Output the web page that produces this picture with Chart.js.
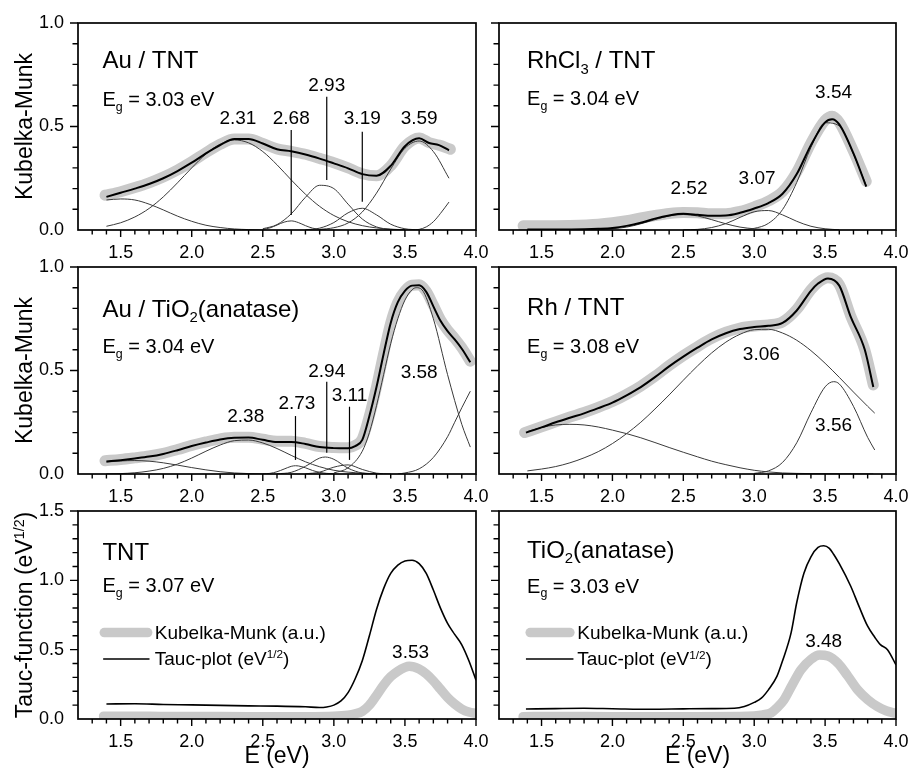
<!DOCTYPE html>
<html>
<head>
<meta charset="utf-8">
<script src="https://cdn.jsdelivr.net/npm/chart.js@4.4.1/dist/chart.umd.min.js"></script>
<style>
  html, body { margin: 0; padding: 0; background: #fff; }
  #wrap { position: relative; width: 909px; height: 776px; }
  #wrap canvas { position: absolute; left: 0; top: 0; }
</style>
</head>
<body>
<div id="wrap">
  <canvas id="p1" width="909" height="776"></canvas>
  <canvas id="p2" width="909" height="776"></canvas>
  <canvas id="p3" width="909" height="776"></canvas>
  <canvas id="p4" width="909" height="776"></canvas>
  <canvas id="p5" width="909" height="776"></canvas>
  <canvas id="p6" width="909" height="776"></canvas>
</div>
<script>
// tick labels
const xTickVals = [1.5, 2.0, 2.5, 3.0, 3.5, 4.0];
const kmTickVals = [0.0, 0.5, 1.0];
const taucTickVals = [0.0, 0.5, 1.0, 1.5];

// ---- Au / TNT  [E (eV), value]
const auTntData = [[1.39,.168],[1.5,.185],[1.6,.205],[1.7,.228],[1.8,.256],[1.9,.29],[2.0,.33],[2.1,.374],[2.2,.414],[2.3,.44],[2.4,.44],[2.5,.418],[2.6,.392],[2.7,.38],[2.8,.366],[2.9,.346],[3.0,.325],[3.1,.3],[3.2,.272],[3.3,.262],[3.4,.31],[3.5,.405],[3.6,.445],[3.67,.422],[3.74,.41],[3.82,.39]];
const auTntFit = [[1.4,.16],[1.5,.18],[1.6,.2],[1.7,.222],[1.8,.25],[1.9,.285],[2.0,.325],[2.1,.37],[2.2,.41],[2.3,.44],[2.4,.44],[2.5,.418],[2.6,.39],[2.7,.38],[2.8,.365],[2.9,.345],[3.0,.322],[3.1,.298],[3.2,.27],[3.3,.262],[3.4,.31],[3.5,.405],[3.6,.443],[3.67,.42],[3.74,.41],[3.81,.385]];
const auTntC1 = [[1.4,.145],[1.5,.15],[1.6,.145],[1.7,.125],[1.8,.097],[1.9,.067],[2.0,.042],[2.1,.023],[2.2,.012],[2.3,.005],[2.4,.002],[2.5,0]];
const auTntC2 = [[1.4,.018],[1.5,.035],[1.6,.063],[1.7,.104],[1.8,.16],[1.9,.228],[2.0,.3],[2.1,.367],[2.2,.415],[2.3,.435],[2.4,.421],[2.5,.379],[2.6,.315],[2.7,.242],[2.8,.173],[2.9,.114],[3.0,.07],[3.1,.04],[3.2,.021],[3.3,.01],[3.4,.004],[3.5,.001]];
const auTntC3 = [[2.5,.003],[2.55,.01],[2.6,.024],[2.65,.038],[2.7,.044],[2.75,.036],[2.8,.021],[2.85,.009],[2.9,.003],[2.95,0]];
const auTntC4 = [[2.5,.006],[2.6,.026],[2.7,.078],[2.8,.158],[2.9,.216],[3.0,.2],[3.1,.125],[3.2,.053],[3.3,.015],[3.4,.003],[3.5,0]];
const auTntC5 = [[2.8,.001],[2.9,.009],[3.0,.036],[3.1,.083],[3.2,.105],[3.3,.073],[3.4,.028],[3.5,.006],[3.6,.001]];
const auTntC6 = [[2.9,.003],[3.0,.011],[3.1,.034],[3.2,.087],[3.3,.178],[3.4,.294],[3.5,.395],[3.6,.43],[3.7,.379],[3.81,.25]];
const auTntC7 = [[3.55,0],[3.6,.003],[3.65,.015],[3.7,.04],[3.75,.08],[3.81,.135]];
const auTntPeaks = [['2.31',2.325,.51],['2.68',2.70,.51],['2.93',2.95,.673],['3.19',3.20,.51],['3.59',3.60,.51]];
const auTntMarks = [[2.70,.483,.072],[2.95,.644,.242],[3.20,.475,.137]];

// ---- RhCl3 / TNT
const rhclData = [[1.37,.02],[1.5,.02],[1.7,.022],[1.9,.028],[2.0,.035],[2.1,.045],[2.2,.058],[2.3,.07],[2.4,.08],[2.5,.085],[2.6,.083],[2.7,.078],[2.8,.078],[2.9,.09],[3.0,.112],[3.1,.14],[3.2,.185],[3.3,.28],[3.4,.42],[3.5,.53],[3.55,.55],[3.6,.52],[3.7,.38],[3.79,.235]];
const rhclFit = [[1.4,.003],[1.6,.003],[1.8,.004],[1.9,.006],[2.0,.01],[2.1,.02],[2.2,.035],[2.3,.055],[2.4,.07],[2.5,.078],[2.6,.074],[2.7,.069],[2.8,.07],[2.9,.083],[3.0,.104],[3.1,.13],[3.2,.175],[3.3,.27],[3.4,.41],[3.5,.52],[3.55,.535],[3.6,.51],[3.7,.37],[3.79,.21]];
const rhclC1 = [[1.9,.002],[2.0,.006],[2.1,.014],[2.2,.03],[2.3,.05],[2.4,.068],[2.5,.075],[2.6,.068],[2.7,.05],[2.8,.03],[2.9,.014],[3.0,.006],[3.1,.002],[3.2,0]];
const rhclC2 = [[2.5,.001],[2.6,.003],[2.7,.012],[2.8,.031],[2.9,.061],[3.0,.088],[3.1,.094],[3.2,.073],[3.3,.042],[3.4,.018],[3.5,.006],[3.6,.001]];
const rhclC3 = [[2.9,.001],[3.0,.008],[3.1,.032],[3.2,.099],[3.3,.23],[3.4,.399],[3.5,.518],[3.6,.503],[3.7,.366],[3.79,.215]];
const rhclPeaks = [['2.52',2.54,.174],['3.07',3.02,.221],['3.54',3.56,.636]];

// ---- Au / TiO2(anatase)
const auTioData = [[1.39,.064],[1.5,.07],[1.6,.078],[1.7,.087],[1.8,.1],[1.9,.118],[2.0,.138],[2.1,.155],[2.2,.17],[2.3,.178],[2.4,.178],[2.5,.168],[2.6,.158],[2.7,.158],[2.8,.148],[2.9,.133],[3.0,.128],[3.1,.127],[3.15,.138],[3.2,.17],[3.25,.28],[3.3,.42],[3.35,.58],[3.4,.73],[3.45,.83],[3.5,.885],[3.55,.912],[3.6,.914],[3.65,.882],[3.7,.815],[3.75,.745],[3.8,.695],[3.85,.655],[3.9,.61],[3.96,.545]];
const auTioFit = [[1.4,.06],[1.5,.067],[1.6,.075],[1.7,.084],[1.8,.097],[1.9,.115],[2.0,.135],[2.1,.152],[2.2,.167],[2.3,.175],[2.4,.176],[2.5,.165],[2.6,.155],[2.7,.155],[2.8,.145],[2.9,.13],[3.0,.125],[3.1,.124],[3.15,.135],[3.2,.165],[3.25,.28],[3.3,.42],[3.35,.58],[3.4,.73],[3.45,.83],[3.5,.885],[3.55,.91],[3.6,.912],[3.65,.88],[3.7,.81],[3.75,.74],[3.8,.69],[3.85,.65],[3.9,.605],[3.96,.54]];
const auTioC1 = [[1.4,.058],[1.5,.063],[1.6,.065],[1.7,.062],[1.8,.054],[1.9,.043],[2.0,.031],[2.1,.02],[2.2,.011],[2.3,.005],[2.4,.002],[2.5,0]];
const auTioC2 = [[1.4,.001],[1.5,.002],[1.6,.006],[1.7,.014],[1.8,.027],[1.9,.048],[2.0,.077],[2.1,.11],[2.2,.14],[2.3,.161],[2.4,.164],[2.5,.15],[2.6,.123],[2.7,.09],[2.8,.059],[2.9,.035],[3.0,.018],[3.1,.009],[3.2,.004],[3.3,.001]];
const auTioC3 = [[2.5,.001],[2.55,.003],[2.6,.011],[2.65,.024],[2.7,.037],[2.73,.04],[2.75,.039],[2.8,.03],[2.85,.017],[2.9,.008],[2.95,.003],[3.0,.001]];
const auTioC4 = [[2.6,.001],[2.7,.008],[2.8,.037],[2.9,.077],[2.94,.082],[3.0,.071],[3.1,.028],[3.2,.005],[3.3,.001]];
const auTioC5 = [[2.8,.001],[2.9,.009],[3.0,.033],[3.1,.044],[3.2,.022],[3.3,.004],[3.4,0]];
const auTioC6 = [[3.0,.005],[3.1,.03],[3.2,.11],[3.25,.2],[3.3,.33],[3.35,.48],[3.4,.63],[3.45,.75],[3.5,.84],[3.55,.89],[3.58,.9],[3.62,.89],[3.7,.75],[3.8,.48],[3.9,.24],[3.96,.13]];
const auTioC7 = [[3.45,0],[3.5,.005],[3.6,.025],[3.7,.08],[3.8,.18],[3.85,.25],[3.9,.32],[3.96,.40]];
const auTioPeaks = [['2.38',2.38,.253],['2.73',2.74,.313],['2.94',2.95,.47],['3.11',3.11,.354],['3.58',3.60,.462]];
const auTioMarks = [[2.73,.28,.068],[2.95,.446,.103],[3.11,.325,.068]];

// ---- Rh / TNT
const rhData = [[1.38,.2],[1.5,.228],[1.6,.252],[1.7,.275],[1.8,.297],[1.9,.322],[2.0,.35],[2.1,.385],[2.2,.425],[2.3,.472],[2.4,.524],[2.5,.572],[2.6,.615],[2.7,.655],[2.8,.685],[2.9,.705],[3.0,.715],[3.1,.72],[3.2,.735],[3.3,.795],[3.4,.89],[3.45,.925],[3.52,.948],[3.6,.915],[3.68,.765],[3.78,.6],[3.84,.43]];
const rhFit = [[1.39,.2],[1.5,.225],[1.6,.25],[1.7,.272],[1.8,.293],[1.9,.318],[2.0,.345],[2.1,.38],[2.2,.42],[2.3,.468],[2.4,.52],[2.5,.567],[2.6,.61],[2.7,.65],[2.8,.68],[2.9,.7],[3.0,.71],[3.1,.716],[3.2,.73],[3.3,.79],[3.4,.885],[3.45,.92],[3.52,.945],[3.6,.91],[3.68,.76],[3.78,.6],[3.84,.42]];
const rhC1 = [[1.4,.205],[1.5,.225],[1.6,.237],[1.7,.24],[1.8,.237],[1.9,.227],[2.0,.212],[2.1,.195],[2.2,.175],[2.3,.152],[2.4,.128],[2.5,.105],[2.6,.083],[2.7,.062],[2.8,.045],[2.9,.03],[3.0,.018],[3.1,.01],[3.2,.005],[3.4,.002],[3.6,.001],[3.84,0]];
const rhC2 = [[1.4,.015],[1.5,.024],[1.6,.036],[1.7,.054],[1.8,.078],[1.9,.108],[2.0,.147],[2.1,.195],[2.2,.25],[2.3,.314],[2.4,.382],[2.5,.453],[2.6,.522],[2.7,.585],[2.8,.637],[2.9,.675],[3.0,.697],[3.1,.699],[3.2,.681],[3.3,.646],[3.4,.596],[3.5,.535],[3.6,.467],[3.7,.396],[3.8,.327],[3.85,.294]];
const rhC3 = [[3.0,.003],[3.1,.015],[3.2,.056],[3.3,.151],[3.4,.296],[3.5,.421],[3.56,.446],[3.6,.435],[3.7,.327],[3.8,.177],[3.85,.116]];
const rhPeaks = [['3.06',3.05,.551],['3.56',3.56,.209]];

// ---- TNT (Tauc)
const tntKm = [[1.38,.02],[1.6,.02],[1.8,.018],[2.0,.018],[2.4,.017],[2.8,.017],[3.0,.02],[3.1,.028],[3.15,.038],[3.2,.055],[3.25,.1],[3.3,.17],[3.35,.245],[3.4,.305],[3.45,.345],[3.5,.372],[3.53,.38],[3.6,.36],[3.65,.325],[3.7,.275],[3.75,.215],[3.8,.155],[3.85,.108],[3.9,.072],[3.95,.05],[4.0,.04]];
const tntTauc = [[1.4,.108],[1.6,.11],[1.8,.105],[2.0,.102],[2.2,.098],[2.4,.095],[2.6,.093],[2.8,.088],[2.9,.083],[2.95,.087],[3.0,.1],[3.05,.13],[3.1,.19],[3.15,.29],[3.2,.42],[3.25,.6],[3.3,.79],[3.35,.94],[3.4,1.05],[3.45,1.11],[3.5,1.14],[3.55,1.145],[3.6,1.12],[3.65,1.05],[3.7,.93],[3.75,.8],[3.8,.69],[3.85,.61],[3.9,.535],[3.95,.42],[4.0,.28]];
const tntPeaks = [['3.53',3.54,.44]];

// ---- TiO2(anatase) (Tauc)
const tioKm = [[1.37,.017],[1.6,.018],[2.0,.017],[2.5,.017],[2.9,.018],[3.0,.022],[3.06,.03],[3.12,.045],[3.16,.08],[3.21,.138],[3.27,.25],[3.33,.355],[3.4,.43],[3.46,.462],[3.52,.455],[3.59,.403],[3.66,.31],[3.73,.21],[3.8,.14],[3.87,.089],[3.93,.06],[4.0,.04]];
const tioTauc = [[1.39,.072],[1.6,.075],[1.8,.077],[2.0,.074],[2.27,.07],[2.5,.073],[2.7,.075],[2.86,.077],[2.93,.09],[3.0,.12],[3.05,.15],[3.1,.21],[3.16,.307],[3.2,.42],[3.26,.621],[3.3,.84],[3.35,1.05],[3.4,1.17],[3.45,1.237],[3.49,1.249],[3.53,1.23],[3.56,1.188],[3.6,1.12],[3.68,.959],[3.74,.81],[3.8,.669],[3.85,.59],[3.89,.536],[3.94,.5],[4.0,.39]];
const tioPeaks = [['3.48',3.49,.517]];

const FONT = "'Liberation Sans', Arial, Helvetica, sans-serif";
const W = 909, H = 776;

function line(points, style, order) {
  return Object.assign({
    data: points.map(p => ({ x: p[0], y: p[1] })),
    showLine: true, pointRadius: 0, fill: false,
    cubicInterpolationMode: 'monotone', clip: 0, order: order
  }, style);
}
const grayStyle = w => ({ borderColor: '#c9c9c9', borderWidth: w, borderCapStyle: 'round', borderJoinStyle: 'round' });
const fitStyle = { borderColor: '#000', borderWidth: 2 };
const compStyle = { borderColor: '#3a3a3a', borderWidth: 1 };
const markStyle = { borderColor: '#000', borderWidth: 1.2 };
const taucStyle = { borderColor: '#000', borderWidth: 1.6 };

function marks(list) {
  return list.map(m => line([[m[0], m[1]], [m[0], m[2]]], markStyle, 0));
}

// text: array of [string, 'sub'|'sup'|undefined]
function drawRich(ctx, segs, x, y, size, align) {
  const parts = segs.map(s => {
    const fs = s[1] ? size * 0.62 : size;
    ctx.font = fs + 'px ' + FONT;
    return { t: s[0], k: s[1], fs: fs, w: ctx.measureText(s[0]).width };
  });
  const total = parts.reduce((a, p) => a + p.w, 0);
  let cx = align === 'center' ? x - total / 2 : x;
  ctx.textAlign = 'left';
  ctx.textBaseline = 'alphabetic';
  for (const p of parts) {
    ctx.font = p.fs + 'px ' + FONT;
    const dy = p.k === 'sub' ? size * 0.24 : (p.k === 'sup' ? -size * 0.36 : 0);
    ctx.fillText(p.t, cx, y + dy);
    cx += p.w;
  }
}

function deco(cfg) {
  return {
    id: 'deco',
    afterDraw(chart) {
      const { ctx, chartArea: a, scales: { x, y } } = chart;
      ctx.save();
      ctx.strokeStyle = '#000';
      ctx.fillStyle = '#000';
      // minor and major ticks, pointing outwards
      ctx.lineWidth = 1.4;
      ctx.beginPath();
      for (let i = 13; i <= 40; i++) {
        const px = x.getPixelForValue(i / 10);
        const len = i % 5 === 0 ? 7 : 4.5;
        ctx.moveTo(px, a.bottom); ctx.lineTo(px, a.bottom + len);
      }
      const n = Math.round(cfg.yMax * 10);
      for (let i = 1; i <= n; i++) {
        const py = y.getPixelForValue(i / 10);
        const len = i % 5 === 0 ? 8 : 5.5;
        ctx.moveTo(a.left, py); ctx.lineTo(a.left - len, py);
      }
      ctx.stroke();
      // frame
      ctx.lineWidth = 1.7;
      ctx.strokeRect(a.left, a.top, a.right - a.left, a.bottom - a.top);
      // title + band gap
      drawRich(ctx, cfg.title, x.getPixelForValue(cfg.tx), y.getPixelForValue(cfg.ty), 24, 'left');
      drawRich(ctx, [['E'], ['g', 'sub'], [' = ' + cfg.eg + ' eV']], x.getPixelForValue(cfg.tx), y.getPixelForValue(cfg.egy), 20, 'left');
      // peak labels
      for (const p of cfg.peaks) {
        drawRich(ctx, [[p[0]]], x.getPixelForValue(p[1]), y.getPixelForValue(p[2]), 19, 'center');
      }
      // legend texts
      if (cfg.legend) {
        drawRich(ctx, [['Kubelka-Munk (a.u.)']], x.getPixelForValue(cfg.legend.tx), y.getPixelForValue(cfg.legend.y1), 19, 'left');
        drawRich(ctx, [['Tauc-plot (eV'], ['1/2', 'sup'], [')']], x.getPixelForValue(cfg.legend.tx), y.getPixelForValue(cfg.legend.y2), 19, 'left');
      }
      // axis titles
      if (cfg.yTitle) {
        ctx.save();
        ctx.translate(32, (a.top + a.bottom) / 2);
        ctx.rotate(-Math.PI / 2);
        drawRich(ctx, cfg.yTitle, 0, 0, 23, 'center');
        ctx.restore();
      }
      if (cfg.xTitle) {
        drawRich(ctx, [['E (eV)']], (a.left + a.right) / 2, 763, 23, 'center');
      }
      ctx.restore();
    }
  };
}

function panel(id, area, cfg, datasets) {
  const [L, T, R, B] = area;
  const yTicks = cfg.yMax > 1 ? taucTickVals : kmTickVals;
  const yw = cfg.yLabels ? L : 20;
  new Chart(document.getElementById(id), {
    type: 'scatter',
    data: { datasets: datasets },
    options: {
      responsive: false,
      animation: false,
      events: [],
      layout: { padding: { left: L - yw, top: T, right: W - R, bottom: H - B - 34 } },
      plugins: { legend: { display: false }, tooltip: { enabled: false } },
      scales: {
        x: {
          type: 'linear', min: 1.2, max: 4.0,
          afterBuildTicks: s => { s.ticks = xTickVals.map(v => ({ value: v })); },
          afterFit: s => { s.height = 34; s.paddingLeft = 0; s.paddingRight = 0; },
          grid: { display: false, drawTicks: false },
          border: { display: false },
          ticks: { padding: 12, color: '#000', font: { family: FONT, size: 18 }, maxRotation: 0, autoSkip: false,
                   callback: v => v.toFixed(1) }
        },
        y: {
          type: 'linear', min: 0, max: cfg.yMax,
          afterBuildTicks: s => { s.ticks = yTicks.map(v => ({ value: v })); },
          afterFit: s => { s.width = yw; s.paddingTop = 0; s.paddingBottom = 0; },
          grid: { display: false, drawTicks: false },
          border: { display: false },
          ticks: { display: cfg.yLabels, padding: 14, color: '#000', font: { family: FONT, size: 18 },
                   callback: v => v.toFixed(1) }
        }
      }
    },
    plugins: [deco(cfg)]
  });
}

const kmTitle = [['Kubelka-Munk']];
const taucTitle = [['Tauc-function (eV'], ['1/2', 'sup'], [')']];

panel('p1', [78, 23, 476, 230],
  { yMax: 1.0, yLabels: true, yTitle: kmTitle, title: [['Au / TNT']], tx: 1.372, ty: .781, eg: '3.03', egy: .599, peaks: auTntPeaks },
  [line(auTntData, grayStyle(11), 3), line(auTntFit, fitStyle, 1)]
    .concat([auTntC1, auTntC2, auTntC3, auTntC4, auTntC5, auTntC6, auTntC7].map(c => line(c, compStyle, 2)))
    .concat(marks(auTntMarks)));

panel('p2', [499, 23, 896, 230],
  { yMax: 1.0, yLabels: false, title: [['RhCl'], ['3', 'sub'], [' / TNT']], tx: 1.398, ty: .781, eg: '3.04', egy: .604, peaks: rhclPeaks },
  [line(rhclData, grayStyle(11), 3), line(rhclFit, fitStyle, 1)]
    .concat([rhclC1, rhclC2, rhclC3].map(c => line(c, compStyle, 2))));

panel('p3', [78, 267, 476, 474],
  { yMax: 1.0, yLabels: true, yTitle: kmTitle, title: [['Au / TiO'], ['2', 'sub'], ['(anatase)']], tx: 1.372, ty: .760, eg: '3.04', egy: .583, peaks: auTioPeaks },
  [line(auTioData, grayStyle(11), 3), line(auTioFit, fitStyle, 1)]
    .concat([auTioC1, auTioC2, auTioC3, auTioC4, auTioC5, auTioC6, auTioC7].map(c => line(c, compStyle, 2)))
    .concat(marks(auTioMarks)));

panel('p4', [499, 267, 896, 474],
  { yMax: 1.0, yLabels: false, title: [['Rh / TNT']], tx: 1.398, ty: .768, eg: '3.08', egy: .583, peaks: rhPeaks },
  [line(rhData, grayStyle(11), 3), line(rhFit, fitStyle, 1)]
    .concat([rhC1, rhC2, rhC3].map(c => line(c, compStyle, 2))));

panel('p5', [78, 511, 476, 719],
  { yMax: 1.5, yLabels: true, yTitle: taucTitle, xTitle: true, title: [['TNT']], tx: 1.372, ty: 1.147, eg: '3.07', egy: .915, peaks: tntPeaks,
    legend: { tx: 1.74, y1: .577, y2: .391 } },
  [line(tntKm, grayStyle(9.5), 3), line(tntTauc, taucStyle, 1),
   line([[1.385, .623], [1.69, .623]], grayStyle(9.5), 3),
   line([[1.377, .433], [1.703, .433]], taucStyle, 1)]);

panel('p6', [499, 511, 896, 719],
  { yMax: 1.5, yLabels: false, xTitle: true, title: [['TiO'], ['2', 'sub'], ['(anatase)']], tx: 1.398, ty: 1.164, eg: '3.03', egy: .911, peaks: tioPeaks,
    legend: { tx: 1.752, y1: .577, y2: .386 } },
  [line(tioKm, grayStyle(9.5), 3), line(tioTauc, taucStyle, 1),
   line([[1.42, .623], [1.70, .623]], grayStyle(9.5), 3),
   line([[1.39, .433], [1.725, .433]], taucStyle, 1)]);
</script>
</body>
</html>
